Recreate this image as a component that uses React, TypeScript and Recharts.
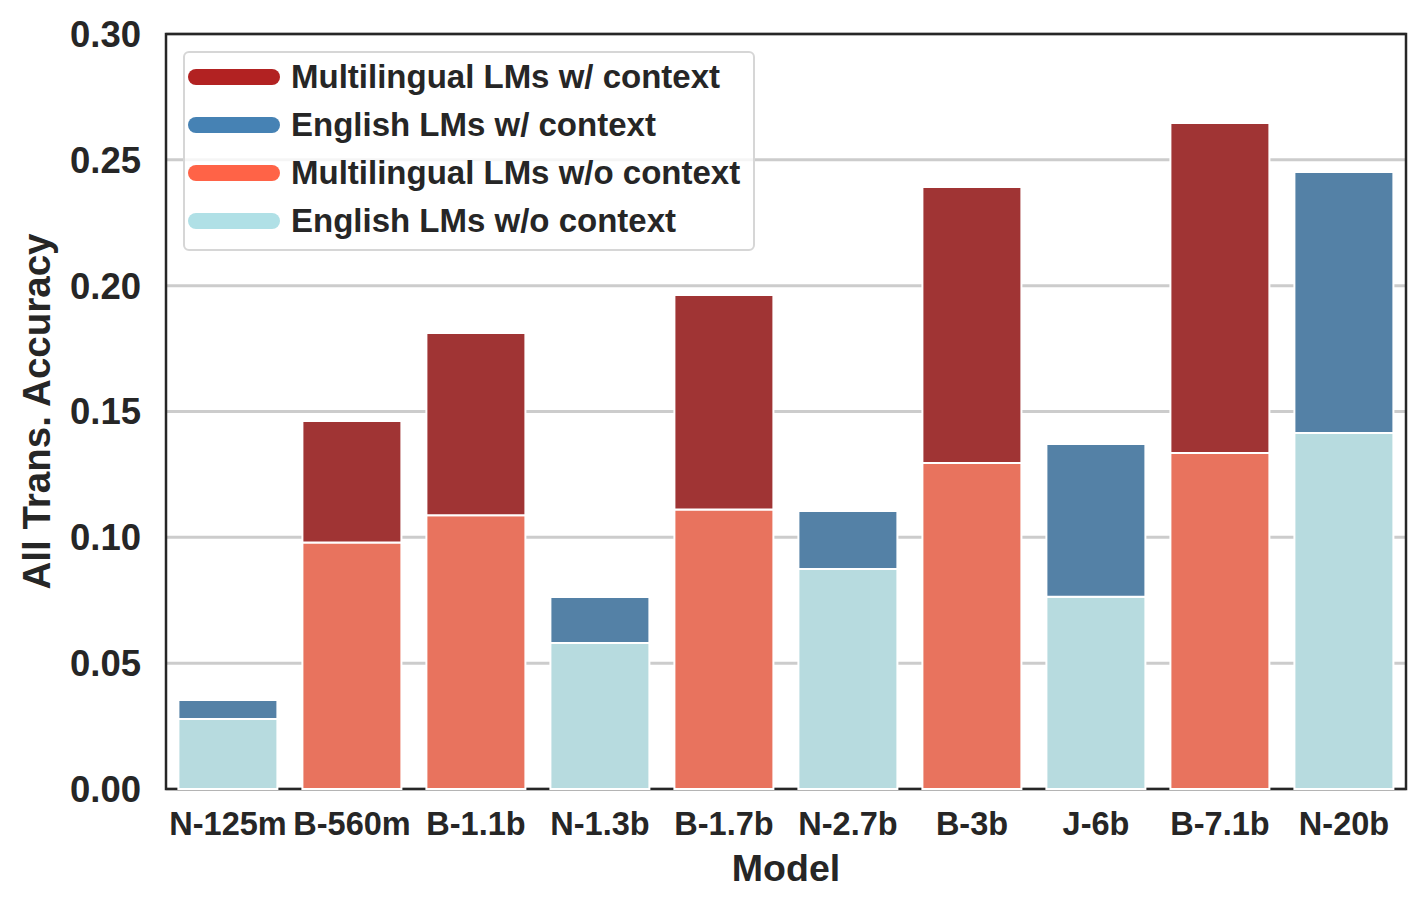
import React from 'react';
import { BarChart, Bar, XAxis, YAxis, CartesianGrid, Cell, ReferenceArea } from 'recharts';

const models = ['N-125m', 'B-560m', 'B-1.1b', 'N-1.3b', 'B-1.7b', 'N-2.7b', 'B-3b', 'J-6b', 'B-7.1b', 'N-20b'];
const isMultilingual = [false, true, true, false, true, false, true, false, true, false];
const withContext = [0.0354, 0.1462, 0.1812, 0.0763, 0.1963, 0.1105, 0.2392, 0.1371, 0.2646, 0.2452];
const withoutContext = [0.0278, 0.0979, 0.1088, 0.058, 0.1111, 0.0874, 0.1295, 0.0764, 0.1335, 0.1415];
const yTicks = [0, 0.05, 0.1, 0.15, 0.2, 0.25, 0.3];

const legendLabels = [
  'Multilingual LMs w/ context',
  'English LMs w/ context',
  'Multilingual LMs w/o context',
  'English LMs w/o context',
];
const legendColors = ['#b22222', '#4682b4', '#ff6347', '#b0e0e6'];

const barColors = {
  multiWith: '#a03434',
  engWith: '#5481a6',
  multiWithout: '#e8735e',
  engWithout: '#b7dbdf',
};

const data = models.map((m, i) => ({
  model: m,
  without: withoutContext[i],
  diff: withContext[i] - withoutContext[i],
}));

const FONT = '"Liberation Sans", Arial, Helvetica, sans-serif';
const TEXT = '#262626';

const LegendBox = () => (
  <div
    style={{
      position: 'absolute',
      left: 183,
      top: 51,
      width: 572,
      height: 200,
      boxSizing: 'border-box',
      border: '2px solid #d6d6d6',
      borderRadius: 6,
      background: 'rgba(255,255,255,0.8)',
      fontFamily: FONT,
      pointerEvents: 'none',
    }}
  >
    {legendLabels.map((label, i) => (
      <div
        key={label}
        style={{ position: 'absolute', left: 0, top: 24 + i * 48 - 20, height: 40, width: 568 }}
      >
        <svg width={100} height={40} style={{ position: 'absolute', left: 0, top: 0 }}>
          <line x1={11} y1={20} x2={87} y2={20} stroke={legendColors[i]} strokeWidth={16} strokeLinecap="round" />
        </svg>
        <span
          style={{
            position: 'absolute',
            left: 106,
            top: 0,
            lineHeight: '40px',
            fontSize: 33,
            fontWeight: 700,
            color: TEXT,
            whiteSpace: 'nowrap',
          }}
        >
          {label}
        </span>
      </div>
    ))}
  </div>
);

const YLabel = (props: any) => {
  const vb = props.viewBox || {};
  const cx = 36;
  const cy = vb.y + vb.height / 2;
  return (
    <text
      x={cx}
      y={cy}
      transform={`rotate(-90, ${cx}, ${cy})`}
      textAnchor="middle"
      dominantBaseline="central"
      fontFamily={FONT}
      fontWeight={700}
      fontSize={38.5}
      fill={TEXT}
    >
      All Trans. Accuracy
    </text>
  );
};

const XLabel = (props: any) => {
  const vb = props.viewBox || {};
  return (
    <text
      x={vb.x + vb.width / 2}
      y={vb.y + 92}
      textAnchor="middle"
      fontFamily={FONT}
      fontWeight={700}
      fontSize={37.5}
      fill={TEXT}
    >
      Model
    </text>
  );
};

export default function App() {
  return (
    <div style={{ position: 'absolute', left: 0, top: 0, width: 1426, height: 910, background: '#fff' }}>
      <BarChart
        width={1426}
        height={910}
        data={data}
        margin={{ top: 34, right: 20, bottom: 0, left: 0 }}
        barCategoryGap="10%"
      >
        <CartesianGrid vertical={false} stroke="#cccccc" strokeWidth={3} />
        <XAxis
          dataKey="model"
          height={121}
          tickLine={false}
          tickSize={0}
          tickMargin={23}
          axisLine={false}
          tick={{ fontFamily: FONT, fontWeight: 700, fontSize: 32.5, fill: TEXT }}
          interval={0}
          label={<XLabel />}
        />
        <YAxis
          width={166}
          domain={[0, 0.3]}
          ticks={yTicks}
          tickFormatter={(v: number) => v.toFixed(2)}
          tickLine={false}
          tickSize={0}
          tickMargin={25}
          axisLine={false}
          tick={{ fontFamily: FONT, fontWeight: 700, fontSize: 36.5, fill: TEXT }}
          interval={0}
          label={<YLabel />}
        />
        <Bar dataKey="without" stackId="a" isAnimationActive={false} stroke="#ffffff" strokeWidth={2}>
          {data.map((d, i) => (
            <Cell key={d.model} fill={isMultilingual[i] ? barColors.multiWithout : barColors.engWithout} />
          ))}
        </Bar>
        <Bar dataKey="diff" stackId="a" isAnimationActive={false} stroke="#ffffff" strokeWidth={2}>
          {data.map((d, i) => (
            <Cell key={d.model} fill={isMultilingual[i] ? barColors.multiWith : barColors.engWith} />
          ))}
        </Bar>
        <ReferenceArea
          y1={0}
          y2={0.3}
          fill="none"
          fillOpacity={0}
          stroke={TEXT}
          strokeWidth={2.5}
          ifOverflow="visible"
        />
      </BarChart>
      <LegendBox />
    </div>
  );
}
